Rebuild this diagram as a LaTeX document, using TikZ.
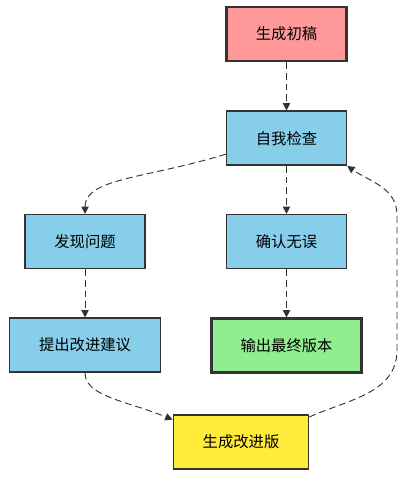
\documentclass[tikz,border=0pt]{standalone}
\usepackage{fontspec}
\usepackage{xcolor}
\usepackage{tikz}
\usetikzlibrary{arrows.meta,positioning}
\newfontfamily\cjk{Noto Sans CJK SC}

\definecolor{draftpink}{HTML}{FF9999}
\definecolor{stepblue}{HTML}{87CEEB}
\definecolor{finalgreen}{HTML}{90EE90}
\definecolor{reviseyellow}{HTML}{FFEB3B}
\definecolor{edgegray}{HTML}{333333}

\begin{document}
\begin{tikzpicture}[
  x=0.75pt, y=-0.75pt,
  node distance=36pt and 60pt,
  stepbox/.style={rectangle, draw=edgegray, line width=1.1pt,
    fill=stepblue, inner xsep=22pt, minimum height=40.5pt,
    align=center, font=\cjk\fontsize{11.5}{13}\selectfont},
  keybox/.style={stepbox, line width=2.2pt},
  arr/.style={-{Triangle[length=5.5pt,width=5.5pt]},
    dash pattern=on 5pt off 3pt, line width=0.7pt, draw=edgegray}
]
  \useasboundingbox (0,0) rectangle (413,486);

  \node[keybox, fill=draftpink] at (286.5,34) (draft) {生成初稿};
  \node[stepbox, below=of draft]  (check)   {自我检查};
  \node[stepbox, below=of check]  (ok)      {确认无误};
  \node[stepbox, left=of ok]      (issue)   {发现问题};
  \node[keybox, fill=finalgreen, below=of ok] (final) {输出最终版本};
  \node[stepbox, below=of issue]  (suggest) {提出改进建议};
  \node[stepbox, fill=reviseyellow] at (241,442) (revise) {生成改进版};
  \coordinate (loopb) at (397,350);
  \coordinate (loopt) at (397,215);

  \draw[arr] (draft)   -- (check);
  \draw[arr] (check)   -- (ok);
  \draw[arr] (ok)      -- (final);
  \draw[arr] (issue)   -- (suggest);
  \draw[arr] ([yshift=-12pt]check.west) to[out=197,in=90,out looseness=1.4,in looseness=0.6] (issue.north);
  \draw[arr] (suggest.south) to[out=-90,in=158,out looseness=0.6,in looseness=1.3] ([yshift=-4pt]revise.north west);
  \draw[arr] ([yshift=-2pt]revise.north east) to[out=24,in=-90] (loopb)
    -- (loopt) to[out=90,in=-35] (check.south east);
\end{tikzpicture}
\end{document}
